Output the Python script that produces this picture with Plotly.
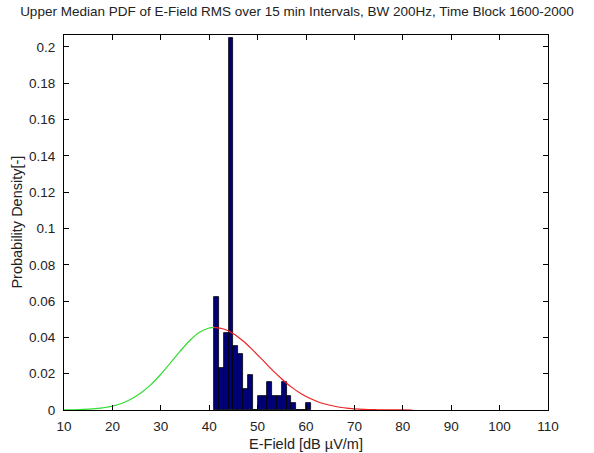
import plotly.graph_objects as go

# Histogram (1 dB bins), bin centres and probability density
bin_centers = [41.5, 42.5, 43.5, 44.5, 45.5, 46.5, 47.5, 48.5, 49.5, 50.5,
               51.5, 52.5, 53.5, 54.5, 55.5, 56.5, 57.5, 58.5, 59.5, 60.5]
density = [0.062, 0.023, 0.0425, 0.205, 0.035, 0.031, 0.0116, 0.0194, 0.0, 0.0077,
           0.0077, 0.0156, 0.0077, 0.0077, 0.0156, 0.0077, 0.0039, 0.0, 0.0, 0.0039]

# Fitted PDF, lower part (green)
green_x = [10, 12, 14, 16, 18, 20, 22, 24, 26, 28, 30, 32, 34, 36, 38, 40, 41]
green_y = [0.0001, 0.00013, 0.0003, 0.0006, 0.0012, 0.0021, 0.0037, 0.0062, 0.0096,
           0.0141, 0.0197, 0.026, 0.0324, 0.0383, 0.0428, 0.0452, 0.0455]

# Fitted PDF, upper part (red)
red_x = [41, 43, 45, 47, 49, 51, 53, 55, 57, 59, 61, 63, 65, 67, 69, 71, 73, 75, 77, 80, 82]
red_y = [0.0455, 0.0446, 0.042, 0.038, 0.033, 0.0276, 0.0221, 0.0171, 0.0126, 0.009,
         0.0062, 0.004, 0.0026, 0.0015, 0.0009, 0.0005, 0.00027, 0.00014, 0.00007,
         0.00002, 0.00001]

x_ticks = [10, 20, 30, 40, 50, 60, 70, 80, 90, 100, 110]
y_ticks = [0, 0.02, 0.04, 0.06, 0.08, 0.1, 0.12, 0.14, 0.16, 0.18, 0.2]
y_ticklabels = ["0", "0.02", "0.04", "0.06", "0.08", "0.1", "0.12", "0.14", "0.16", "0.18", "0.2"]

FONT = "Liberation Sans, Arial, sans-serif"
TXT = "#222222"

fig = go.Figure()
fig.add_trace(go.Bar(x=bin_centers, y=density, width=1,
                     marker=dict(color="#00007a", line=dict(color="#000000", width=0.8)),
                     showlegend=False))
fig.add_trace(go.Scatter(x=green_x, y=green_y, mode="lines",
                         line=dict(color="#33dd33", width=1.2, shape="spline"),
                         showlegend=False))
fig.add_trace(go.Scatter(x=red_x, y=red_y, mode="lines",
                         line=dict(color="#ee2222", width=1.2, shape="spline"),
                         showlegend=False))

axis_common = dict(showgrid=False, zeroline=False, showline=True, linecolor="black",
                   linewidth=1, mirror="allticks", ticks="inside", ticklen=5,
                   tickcolor="black", tickwidth=1, automargin=False,
                   tickfont=dict(family=FONT, size=13.5, color=TXT))

fig.update_xaxes(range=[10, 110], tickvals=x_ticks, ticklabelstandoff=4, **axis_common,
                 title=dict(text="E-Field [dB µV/m]", standoff=5,
                            font=dict(family=FONT, size=14.5, color=TXT)))
fig.update_yaxes(range=[0, 0.2066], tickvals=y_ticks, ticktext=y_ticklabels,
                 ticklabelstandoff=5, **axis_common)

fig.update_layout(
    width=594, height=453,
    margin=dict(l=64, r=46, t=35, b=43),
    paper_bgcolor="white", plot_bgcolor="white",
    bargap=0,
    title=dict(text="Upper Median PDF of E-Field RMS over 15 min Intervals, BW 200Hz, Time Block 1600-2000",
               x=0.5, xref="container", xanchor="center", y=0.985, yanchor="top",
               font=dict(family=FONT, size=13.5, color=TXT)),
    annotations=[dict(text="Probability Density[-]", xref="paper", yref="paper",
                      x=-0.099, y=0.5, xanchor="center", yanchor="middle",
                      textangle=-90, showarrow=False,
                      font=dict(family=FONT, size=14.5, color=TXT))],
)

fig.write_html("out.html", config={"displayModeBar": False},
               post_script="document.body.style.margin='0';document.body.style.overflow='hidden';")
